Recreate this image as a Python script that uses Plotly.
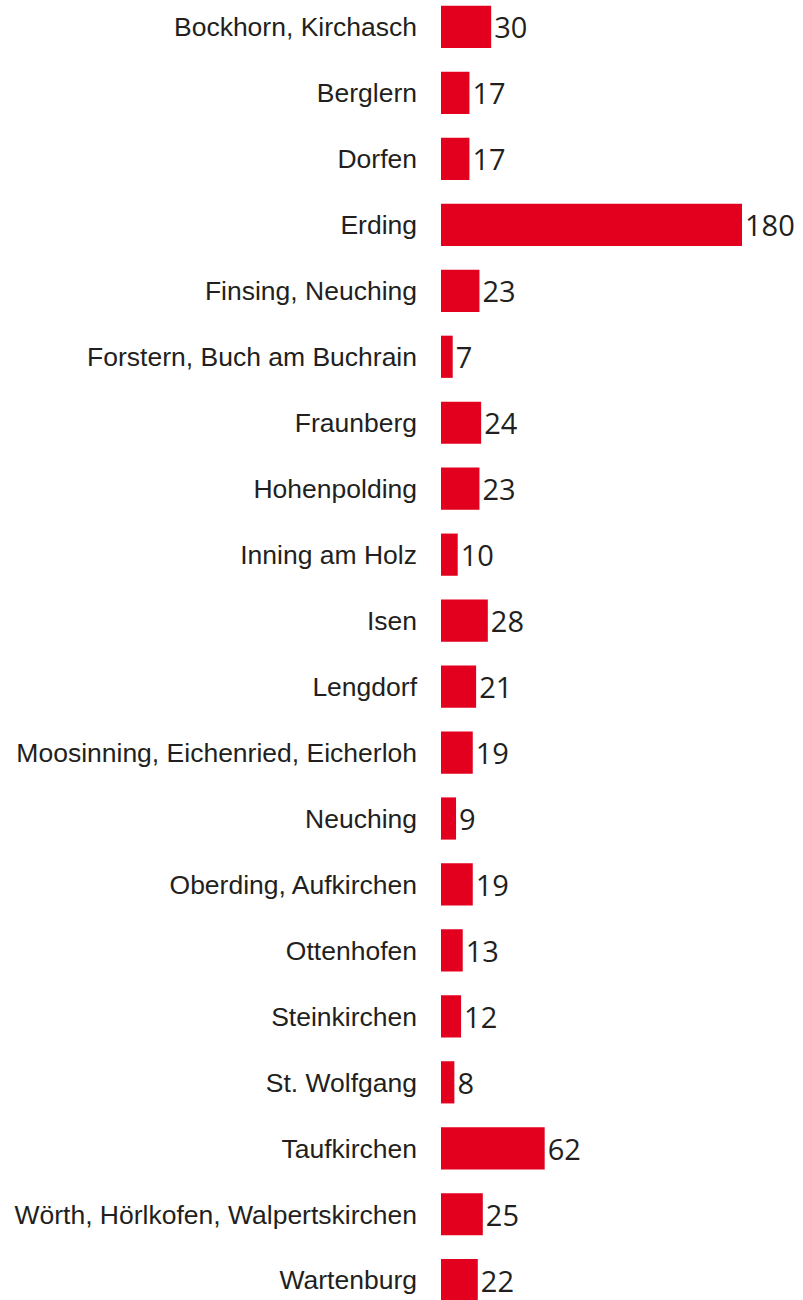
import plotly.graph_objects as go

categories = [
    "Bockhorn, Kirchasch", "Berglern", "Dorfen", "Erding", "Finsing, Neuching",
    "Forstern, Buch am Buchrain", "Fraunberg", "Hohenpolding", "Inning am Holz",
    "Isen", "Lengdorf", "Moosinning, Eichenried, Eicherloh", "Neuching",
    "Oberding, Aufkirchen", "Ottenhofen", "Steinkirchen", "St. Wolfgang",
    "Taufkirchen", "Wörth, Hörlkofen, Walpertskirchen", "Wartenburg",
]
values = [30, 17, 17, 180, 23, 7, 24, 23, 10, 28, 21, 19, 9, 19, 13, 12, 8, 62, 25, 22]

RED = "#E3001F"
TEXT = "#231F20"

fig = go.Figure(
    go.Bar(
        x=values,
        y=list(range(len(categories))),
        orientation="h",
        marker=dict(color=RED, line=dict(width=0)),
        width=0.64,
        text=[str(v) for v in values],
        textposition="outside",
        cliponaxis=False,
        textfont=dict(family="Open Sans", size=29, color=TEXT),
        hoverinfo="skip",
    )
)

fig.update_layout(
    width=803,
    height=1300,
    margin=dict(l=441, r=0, t=0, b=0),
    paper_bgcolor="white",
    plot_bgcolor="white",
    showlegend=False,
    uniformtext=dict(minsize=10),
    xaxis=dict(range=[0, 180 * 362 / 301], visible=False, fixedrange=True),
    yaxis=dict(
        range=[19.30, -0.409],
        tickmode="array",
        tickvals=list(range(len(categories))),
        ticktext=categories,
        showgrid=False,
        zeroline=False,
        showline=False,
        ticks="",
        ticklabelstandoff=23,
        tickfont=dict(family="Liberation Sans", size=26.5, color=TEXT),
        fixedrange=True,
    ),
)

fig.write_html("out.html")
